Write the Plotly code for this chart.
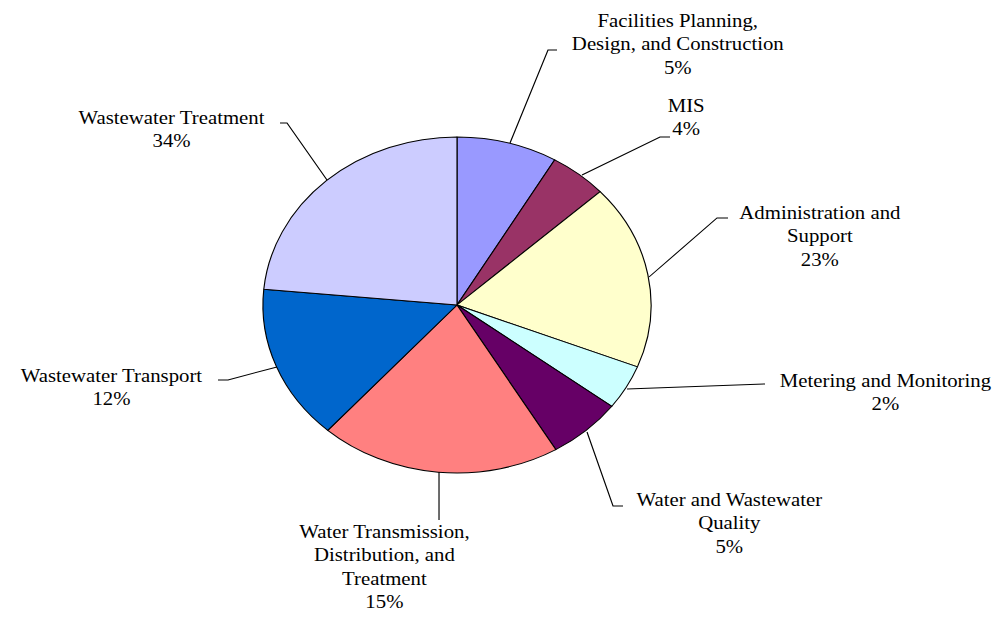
import plotly.graph_objects as go

# ---- data ----
categories = [
    "Facilities Planning, Design, and Construction",
    "MIS",
    "Administration and Support",
    "Metering and Monitoring",
    "Water and Wastewater Quality",
    "Water Transmission, Distribution, and Treatment",
    "Wastewater Transport",
    "Wastewater Treatment",
]
# slice sizes as drawn (share of the full circle, %)
slice_values = [8.4, 4.8, 17.8, 4.3, 6.2, 20.1, 14.9, 23.5]
# percentages printed in the labels
label_pcts = ["5%", "4%", "23%", "2%", "5%", "15%", "12%", "34%"]
# label text as it is broken into lines
label_names = [
    "Facilities Planning,<br>Design, and Construction",
    "MIS",
    "Administration and<br>Support",
    "Metering and Monitoring",
    "Water and Wastewater<br>Quality",
    "Water Transmission,<br>Distribution, and<br>Treatment",
    "Wastewater Transport",
    "Wastewater Treatment",
]
colors = ["#9999FF", "#993366", "#FFFFCC", "#CCFFFF",
          "#660066", "#FF8080", "#0066CC", "#CCCCFF"]

# ---- layout geometry (reference pixels) ----
W_REF, H_REF = 1005, 617
STRETCH = 1.1552              # the reference is stretched horizontally
W = round(W_REF / STRETCH)    # 870 px before stretching

def px(x):
    return x / W_REF

def py(y):
    return 1 - y / H_REF

# label centres
label_pos = [(677, 44), (686, 118), (820, 236), (885, 392),
             (730, 523), (385, 567), (112, 387), (171, 130)]
# leader lines
leaders = [
    [(557, 50), (548, 50), (510, 143)],
    [(670, 137), (660, 137), (582, 175)],
    [(728, 218), (717, 218), (649, 277)],
    [(765, 384), (627, 389)],
    [(587, 432), (613, 506), (623, 506)],
    [(439, 472), (439, 520)],
    [(218, 380), (228, 380), (277, 367)],
    [(280, 123), (287, 123), (327, 180)],
]

cx, cy, r = 457 / STRETCH, 305, 168
dom_x = [(cx - r) / W, (cx + r) / W]
dom_y = [1 - (cy + r) / H_REF, 1 - (cy - r) / H_REF]

fig = go.Figure(go.Pie(
    labels=categories,
    values=slice_values,
    sort=False,
    direction="clockwise",
    rotation=0,
    marker=dict(colors=colors, line=dict(color="black", width=1)),
    textinfo="none",
    hoverinfo="label",
    domain=dict(x=dom_x, y=dom_y),
    showlegend=False,
))

font = dict(family="Liberation Serif, Times New Roman, serif", size=18, color="black")
for name, pct, (lx, ly) in zip(label_names, label_pcts, label_pos):
    fig.add_annotation(
        x=px(lx), y=py(ly), xref="paper", yref="paper",
        text=f"{name}<br>{pct}", showarrow=False,
        xanchor="center", yanchor="middle", align="center", font=font,
        borderpad=0,
    )

for pts in leaders:
    path = "M " + " L ".join(f"{px(x):.5f},{py(y):.5f}" for x, y in pts)
    fig.add_shape(type="path", path=path, xref="paper", yref="paper",
                  line=dict(color="black", width=1))

fig.update_layout(
    width=W, height=H_REF,
    margin=dict(l=0, r=0, t=0, b=0),
    paper_bgcolor="white", plot_bgcolor="white",
)

post = """
document.body.style.margin = '0';
var gd = document.getElementById('{plot_id}');
gd.style.transformOrigin = '0 0';
gd.style.transform = 'scaleX(%s)';
""" % STRETCH

fig.write_html("out.html", post_script=post)
